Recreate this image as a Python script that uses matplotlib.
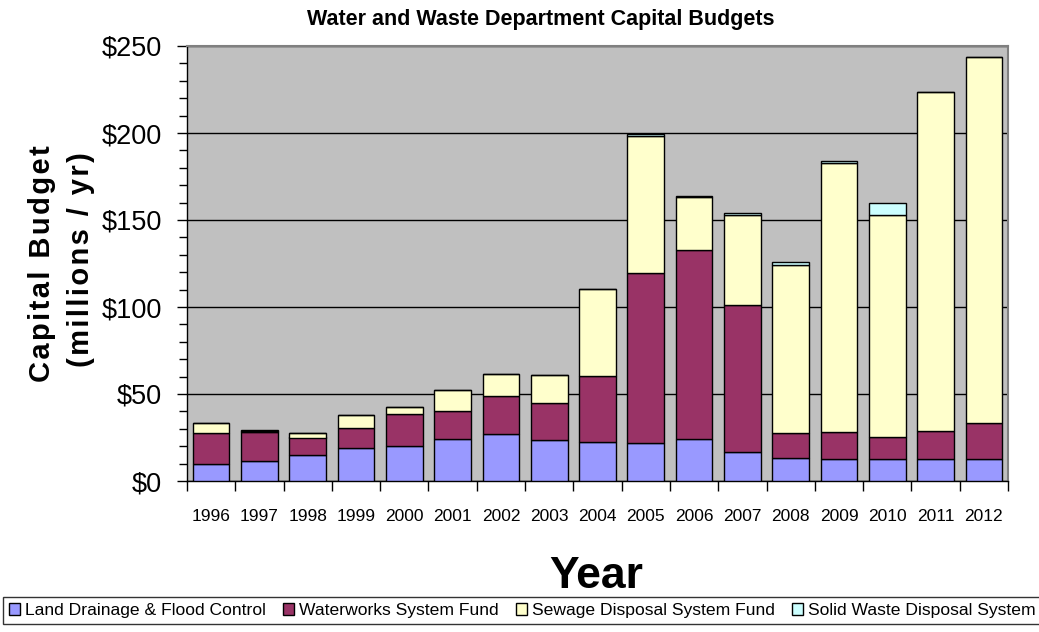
import numpy as np
import matplotlib
matplotlib.use('Agg')
import matplotlib.pyplot as plt
from matplotlib.ticker import MultipleLocator, FuncFormatter, FixedLocator, NullFormatter
from matplotlib.patches import Patch

# capital budget per fund, millions of dollars per year
years = ['1996', '1997', '1998', '1999', '2000', '2001', '2002', '2003', '2004',
         '2005', '2006', '2007', '2008', '2009', '2010', '2011', '2012']
land_drainage = [10.0, 11.5, 14.8, 18.7, 20.2, 24.2, 26.8, 23.5, 22.7,
                 21.8, 24.1, 16.4, 13.2, 12.6, 12.6, 12.6, 12.6]
waterworks = [17.7, 16.8, 10.2, 11.9, 18.3, 15.8, 21.9, 21.5, 37.9,
              97.5, 108.5, 84.5, 14.5, 15.7, 12.6, 16.4, 20.7]
sewage = [5.4, 0.6, 2.7, 7.5, 4.2, 12.2, 13.0, 15.8, 49.9,
          78.7, 30.6, 52.2, 96.3, 154.2, 127.9, 194.8, 210.4]
solid_waste = [0, 0.4, 0, 0, 0, 0, 0, 0, 0,
               1.4, 0.8, 0.7, 2.1, 1.6, 6.5, 0, 0]

series = [('Land Drainage & Flood Control', land_drainage, '#9999FF'),
          ('Waterworks System Fund', waterworks, '#993366'),
          ('Sewage Disposal System Fund', sewage, '#FFFFCC'),
          ('Solid Waste Disposal System', solid_waste, '#CCFFFF')]

plt.rcParams['font.family'] = ['Liberation Sans', 'DejaVu Sans']

fig = plt.figure(figsize=(10.39, 6.32), dpi=100)
ax = fig.add_axes([187/1039, 1-481/632, (1008-187)/1039, (481-46)/632])
ax.set_facecolor('#C0C0C0')

x = np.arange(len(years))
bottom = np.zeros(len(years))
for name, vals, col in series:
    vals = np.array(vals)
    ax.bar(x, vals, width=0.76, bottom=bottom, color=col,
           edgecolor='black', linewidth=1, label=name, zorder=3)
    bottom += vals

ax.set_xlim(-0.5, len(years) - 0.5)
ax.set_ylim(0, 250)

# y axis: labelled every 50, small ticks every 10
ax.yaxis.set_major_locator(MultipleLocator(50))
ax.yaxis.set_minor_locator(MultipleLocator(10))
ax.yaxis.set_major_formatter(FuncFormatter(lambda v, p: '$%d' % v))
ax.tick_params(axis='y', which='major', length=7, width=1, pad=11, labelsize=19.5)
ax.tick_params(axis='y', which='minor', length=6, width=1)
ax.grid(axis='y', which='major', color='black', linewidth=1, zorder=1)

# x axis: ticks between bars, year labels under bars
ax.xaxis.set_major_locator(FixedLocator(np.arange(-0.5, len(years), 1.0)))
ax.xaxis.set_major_formatter(NullFormatter())
ax.xaxis.set_minor_locator(FixedLocator(x))
ax.set_xticklabels(years, minor=True)
ax.tick_params(axis='x', which='major', length=7, width=1)
ax.tick_params(axis='x', which='minor', length=0, pad=20, labelsize=12.5)

for side in ['top', 'right']:
    ax.spines[side].set_color('#808080')
    ax.spines[side].set_linewidth(1.5)
for side in ['left', 'bottom']:
    ax.spines[side].set_color('black')
    ax.spines[side].set_linewidth(1)

fig.text(541/1039, 1-20/632, 'Water and Waste Department Capital Budgets',
         ha='center', va='center', fontsize=15.5, fontweight='bold')

# spaced-out axis title, hair spaces between letters
hair = '\u200a'
fig.text(42/1039, 1-264/632, hair.join('Capital Budget'),
         rotation=90, ha='center', va='center', fontsize=21, fontweight='bold')
fig.text(81/1039, 1-260/632, hair.join('(millions / yr)'),
         rotation=90, ha='center', va='center', fontsize=21, fontweight='bold')
fig.text(596/1039, 1-576/632, 'Year', ha='center', va='center',
         fontsize=32, fontweight='bold')

handles = [Patch(facecolor=c, edgecolor='black', linewidth=1) for _, _, c in series]
leg = fig.legend(handles, [s[0] for s in series], loc='upper left',
                 bbox_to_anchor=(3/1039, 1-597/632), ncol=4, fontsize=12.6,
                 frameon=True, fancybox=False, edgecolor='black',
                 handlelength=0.6, handleheight=0.6, handletextpad=0.3,
                 columnspacing=1.0, borderpad=0.35, borderaxespad=0)
leg.get_frame().set_linewidth(1)

fig.savefig('out.png', dpi=100)
